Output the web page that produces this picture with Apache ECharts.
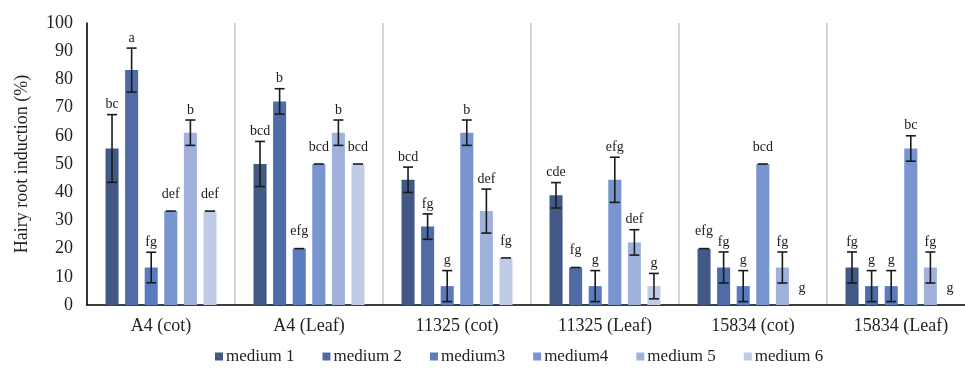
<!DOCTYPE html>
<html><head><meta charset="utf-8">
<script src="https://cdn.jsdelivr.net/npm/echarts@6/dist/echarts.min.js"></script>
<style>html,body{margin:0;padding:0;background:#fff;overflow:hidden}#c{width:965px;height:373px}</style>
</head><body><div id="c"></div>
<script>
const categories = ['A4 (cot)', 'A4 (Leaf)', '11325 (cot)', '11325 (Leaf)', '15834 (cot)', '15834 (Leaf)'];
const seriesNames = ['medium 1', 'medium 2', 'medium3', 'medium4', 'medium 5', 'medium 6'];
const yTicks = [0, 10, 20, 30, 40, 50, 60, 70, 80, 90, 100];

const m1 = [55.5, 50.0, 44.4, 38.9, 20.0, 13.3];
const m2 = [83.3, 72.2, 27.8, 13.3, 13.3, 6.7];
const m3 = [13.3, 20.0, 6.7, 6.7, 6.7, 6.7];
const m4 = [33.3, 50.0, 61.1, 44.4, 50.0, 55.5];
const m5 = [61.1, 61.1, 33.3, 22.2, 13.3, 13.3];
const m6 = [33.3, 50.0, 16.7, 6.7, 0, 0];

const m1Err = [12, 8, 4.5, 4.5, 0, 5.5];
const m2Err = [7.8, 4.5, 4.5, 0, 5.5, 5.5];
const m3Err = [5.4, 0, 5.5, 5.5, 5.5, 5.5];
const m4Err = [0, 0, 4.5, 8, 0, 4.5];
const m5Err = [4.5, 4.5, 7.8, 4.5, 5.5, 5.5];
const m6Err = [0, 0, 0, 4.5, 0, 0];

const m1Letters = ['bc', 'bcd', 'bcd', 'cde', 'efg', 'fg'];
const m2Letters = ['a', 'b', 'fg', 'fg', 'fg', 'g'];
const m3Letters = ['fg', 'efg', 'g', 'g', 'g', 'g'];
const m4Letters = ['def', 'bcd', 'b', 'efg', 'bcd', 'bc'];
const m5Letters = ['b', 'b', 'def', 'def', 'fg', 'fg'];
const m6Letters = ['def', 'bcd', 'fg', 'g', 'g', 'g'];

const colors = ['#435985', '#4f6ca6', '#5b7bbf', '#7895cf', '#a0b1dc', '#c0cbe6'];
const values = [m1, m2, m3, m4, m5, m6];
const errs = [m1Err, m2Err, m3Err, m4Err, m5Err, m6Err];
const letters = [m1Letters, m2Letters, m3Letters, m4Letters, m5Letters, m6Letters];

const FONT = '"Liberation Serif", "Times New Roman", serif';
const nS = seriesNames.length;
const catGap = 0.25, barGapRatio = 0.5;

const series = [];
seriesNames.forEach((name, s) => {
  series.push({
    name, type: 'bar', data: values[s],
    itemStyle: { color: colors[s] },
    barCategoryGap: '25%', barGap: '50%',
    emphasis: { disabled: true }
  });
});
seriesNames.forEach((name, s) => {
  series.push({
    type: 'custom',
    name: name + '_err',
    data: values[s].map((v, i) => [i, v, errs[s][i], letters[s][i]]),
    z: 10,
    silent: true,
    renderItem: (params, api) => {
      const idx = api.value(0), v = api.value(1), e = api.value(2);
      const letter = letters[s][idx];
      const band = api.size([1, 0])[0];
      const usable = band * (1 - catGap);
      const bw = usable / (nS + (nS - 1) * barGapRatio);
      const off = -usable / 2 + bw / 2 + s * bw * (1 + barGapRatio);
      const c = api.coord([idx, v]);
      const x = c[0] + off;
      const yTop = api.coord([idx, v + e])[1];
      const yBot = api.coord([idx, v - e])[1];
      const cap = 5;
      const st = { stroke: '#1a1a1a', lineWidth: 1.6 };
      const children = [];
      if (v > 0) {
        if (e > 0) {
          children.push({ type: 'line', shape: { x1: x, y1: yTop, x2: x, y2: yBot }, style: st });
          children.push({ type: 'line', shape: { x1: x - cap, y1: yBot, x2: x + cap, y2: yBot }, style: st });
        }
        children.push({ type: 'line', shape: { x1: x - cap, y1: yTop, x2: x + cap, y2: yTop }, style: st });
      }
      const ty = e > 0 ? yTop - 3 : yTop - 10;
      children.push({
        type: 'text',
        style: { text: letter, x: x, y: ty, align: 'center', verticalAlign: 'bottom',
          font: '14px ' + FONT, fill: '#1a1a1a' }
      });
      return { type: 'group', children };
    }
  });
});

const chart = echarts.init(document.getElementById('c'), null, { renderer: 'canvas' });
chart.setOption({
  animation: false,
  backgroundColor: '#fff',
  color: colors,
  grid: { left: 87, width: 888, top: 23, bottom: 68, containLabel: false, outerBoundsMode: 'none' },
  legend: {
    data: seriesNames,
    left: 210, top: 343,
    itemWidth: 8, itemHeight: 8, itemGap: 28,
    icon: 'rect',
    textStyle: { fontFamily: FONT, fontSize: 17, color: '#222', padding: [0, 0, 0, -2] },
    selectedMode: false
  },
  xAxis: {
    type: 'category', data: categories,
    axisLine: { lineStyle: { color: '#000', width: 1.5 } },
    axisTick: { show: false },
    axisLabel: { fontFamily: FONT, fontSize: 18, color: '#222', margin: 12 },
    splitLine: { show: true, lineStyle: { color: '#d4d4d4', width: 2 } }
  },
  yAxis: {
    type: 'value', min: 0, max: 100, interval: 10,
    name: 'Hairy root induction (%)', nameLocation: 'middle', nameGap: 56,
    nameTextStyle: { fontFamily: FONT, fontSize: 18, color: '#222' },
    axisLine: { show: true, lineStyle: { color: '#000', width: 1.5 } },
    axisTick: { show: false },
    axisLabel: { fontFamily: FONT, fontSize: 18, color: '#222', margin: 14,
      formatter: v => yTicks.includes(v) ? String(v) : '' },
    splitLine: { show: false }
  },
  series
});
</script></body></html>
